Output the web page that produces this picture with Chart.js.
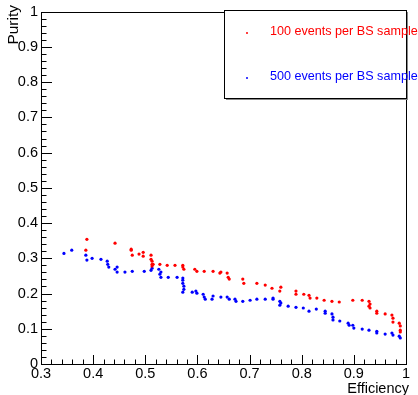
<!DOCTYPE html>
<html>
<head>
<meta charset="utf-8">
<script src="https://cdn.jsdelivr.net/npm/chart.js@4.4.1/dist/chart.umd.min.js"></script>
<style>
  html, body { margin: 0; padding: 0; background: #fff; }
  #c { display: block; }
</style>
</head>
<body>
<canvas id="c" width="418" height="395"></canvas>
<script>
// ── Data ─────────────────────────────────────────────
const xTicks = [0.3, 0.4, 0.5, 0.6, 0.7, 0.8, 0.9, 1]
const yTicks = [0, 0.1, 0.2, 0.3, 0.4, 0.5, 0.6, 0.7, 0.8, 0.9, 1]

const seriesLabels = ['100 events per BS sample', '500 events per BS sample']
const seriesColors = ['#ff0000', '#0000ff']

// 100 events per BS sample
const effRed = [
  0.386, 0.388, 0.442, 0.473, 0.473, 0.475, 0.488, 0.496, 0.496, 0.511,
  0.511, 0.513, 0.513, 0.513, 0.515, 0.528, 0.542, 0.557, 0.572, 0.574,
  0.572, 0.595, 0.599, 0.613, 0.630, 0.643, 0.645, 0.657, 0.659, 0.661,
  0.687, 0.689, 0.714, 0.730, 0.743, 0.758, 0.760, 0.789, 0.789, 0.804,
  0.814, 0.816, 0.829, 0.843, 0.858, 0.872, 0.898, 0.916, 0.929, 0.931,
  0.931, 0.929, 0.944, 0.944, 0.960, 0.973, 0.975, 0.975, 0.987, 0.989,
  0.989, 0.989,
]
const purRed = [
  0.323, 0.354, 0.343, 0.326, 0.323, 0.309, 0.312, 0.317, 0.306, 0.309,
  0.297, 0.292, 0.283, 0.278, 0.283, 0.283, 0.280, 0.280, 0.280, 0.269,
  0.275, 0.269, 0.263, 0.263, 0.263, 0.258, 0.261, 0.258, 0.246, 0.241,
  0.241, 0.229, 0.229, 0.224, 0.215, 0.207, 0.218, 0.207, 0.198, 0.198,
  0.195, 0.187, 0.187, 0.181, 0.178, 0.176, 0.181, 0.181, 0.178, 0.170,
  0.159, 0.164, 0.150, 0.144, 0.142, 0.139, 0.130, 0.119, 0.116, 0.108,
  0.096, 0.091,
]

// 500 events per BS sample
const effBlue = [
  0.344, 0.359, 0.386, 0.388, 0.398, 0.415, 0.427, 0.428, 0.430, 0.446,
  0.442, 0.446, 0.461, 0.475, 0.498, 0.511, 0.513, 0.526, 0.530, 0.528,
  0.530, 0.544, 0.561, 0.572, 0.572, 0.572, 0.574, 0.574, 0.572, 0.590,
  0.597, 0.599, 0.611, 0.613, 0.615, 0.628, 0.630, 0.645, 0.657, 0.661,
  0.672, 0.674, 0.687, 0.701, 0.714, 0.730, 0.745, 0.745, 0.758, 0.760,
  0.758, 0.774, 0.789, 0.803, 0.814, 0.828, 0.845, 0.845, 0.858, 0.860,
  0.860, 0.873, 0.889, 0.891, 0.898, 0.900, 0.916, 0.929, 0.944, 0.944,
  0.960, 0.973, 0.975, 0.987, 0.989,
]
const purBlue = [
  0.314, 0.323, 0.309, 0.295, 0.300, 0.297, 0.292, 0.283, 0.275, 0.275,
  0.269, 0.261, 0.261, 0.263, 0.263, 0.266, 0.272, 0.269, 0.261, 0.255,
  0.246, 0.246, 0.246, 0.244, 0.238, 0.229, 0.221, 0.212, 0.204, 0.204,
  0.207, 0.201, 0.198, 0.190, 0.184, 0.184, 0.193, 0.190, 0.190, 0.184,
  0.184, 0.178, 0.178, 0.181, 0.184, 0.184, 0.184, 0.187, 0.178, 0.173,
  0.167, 0.164, 0.161, 0.159, 0.150, 0.156, 0.150, 0.144, 0.142, 0.133,
  0.125, 0.122, 0.116, 0.110, 0.110, 0.102, 0.099, 0.096, 0.093, 0.088,
  0.085, 0.088, 0.082, 0.079, 0.074,
]

const toPoints = (xs, ys) => xs.map((x, i) => ({ x, y: ys[i] }))
const fmt = v => String(Number(v.toFixed(2)))

const FONT = 'Liberation Sans, Arial, Helvetica, sans-serif'

// ── ROOT-style frame, inner ticks, titles and legend box ──
const rootFrame = {
  id: 'rootFrame',
  afterDraw(chart) {
    const { ctx, chartArea: a, scales: { x, y } } = chart
    ctx.save()
    ctx.strokeStyle = '#000'
    ctx.lineWidth = 1

    // frame
    ctx.strokeRect(Math.round(a.left) + 0.5, Math.round(a.top) + 0.5,
                   Math.round(a.right - a.left), Math.round(a.bottom - a.top))

    // inner ticks, minor every 0.02
    ctx.beginPath()
    for (let i = 0; i <= 35; i++) {
      const v = 0.3 + i * 0.02
      const px = Math.round(x.getPixelForValue(v)) + 0.5
      const len = i % 5 === 0 ? 9 : 4.5
      ctx.moveTo(px, a.bottom)
      ctx.lineTo(px, a.bottom - len)
    }
    for (let i = 0; i <= 50; i++) {
      const v = i * 0.02
      const py = Math.round(y.getPixelForValue(v)) + 0.5
      const len = i % 5 === 0 ? 11 : 5.5
      ctx.moveTo(a.left, py)
      ctx.lineTo(a.left + len, py)
    }
    ctx.stroke()

    // axis titles
    ctx.fillStyle = '#000'
    ctx.font = '14.5px ' + FONT
    ctx.textAlign = 'right'
    ctx.textBaseline = 'alphabetic'
    ctx.fillText('Efficiency', 409, 393)

    ctx.save()
    ctx.translate(18, 5)
    ctx.rotate(-Math.PI / 2)
    ctx.textAlign = 'right'
    ctx.font = '15.5px ' + FONT
    ctx.fillText('Purity', 0, 0)
    ctx.restore()

    // legend box with shadow
    const L = 224, T = 10, R = 406, B = 98
    ctx.fillStyle = '#888'
    ctx.fillRect(R, T + 2, 2, B - T)
    ctx.fillRect(L + 2, B, R - L, 2)
    ctx.fillStyle = '#fff'
    ctx.fillRect(L, T, R - L, B - T)
    ctx.strokeStyle = '#000'
    ctx.strokeRect(L + 0.5, T + 0.5, R - L, B - T)

    ctx.font = '12.6px ' + FONT
    ctx.textAlign = 'left'
    ctx.textBaseline = 'middle'
    const rows = [32, 77]
    chart.data.datasets.forEach((ds, i) => {
      ctx.fillStyle = ds.backgroundColor
      ctx.beginPath()
      ctx.arc(247, rows[i] + 1, 1, 0, Math.PI * 2)
      ctx.fill()
      ctx.fillText(ds.label, 270, rows[i])
    })
    ctx.restore()
  },
}

new Chart(document.getElementById('c'), {
  type: 'scatter',
  data: {
    datasets: [
      {
        label: seriesLabels[0],
        data: toPoints(effRed, purRed),
        backgroundColor: seriesColors[0],
        borderWidth: 0,
        pointRadius: 1.6,
      },
      {
        label: seriesLabels[1],
        data: toPoints(effBlue, purBlue),
        backgroundColor: seriesColors[1],
        borderWidth: 0,
        pointRadius: 1.6,
      },
    ],
  },
  options: {
    responsive: false,
    animation: false,
    devicePixelRatio: 1,
    layout: { padding: { top: 11, right: 12, left: 0, bottom: 0 } },
    plugins: { legend: { display: false }, tooltip: { enabled: false } },
    scales: {
      x: {
        type: 'linear',
        min: 0.3,
        max: 1,
        afterFit: s => { s.height = 31 },
        afterBuildTicks: s => { s.ticks = xTicks.map(value => ({ value })) },
        grid: { display: false, drawTicks: false },
        border: { display: false },
        ticks: {
          autoSkip: false,
          maxRotation: 0,
          padding: 1,
          color: '#000',
          font: { family: FONT, size: 14.5 },
          callback: fmt,
        },
      },
      y: {
        type: 'linear',
        min: 0,
        max: 1,
        afterFit: s => { s.width = 41 },
        afterBuildTicks: s => { s.ticks = yTicks.map(value => ({ value })) },
        grid: { display: false, drawTicks: false },
        border: { display: false },
        ticks: {
          autoSkip: false,
          padding: 3,
          color: '#000',
          font: { family: FONT, size: 14.5 },
          callback: fmt,
        },
      },
    },
  },
  plugins: [rootFrame],
})
</script>
</body>
</html>
